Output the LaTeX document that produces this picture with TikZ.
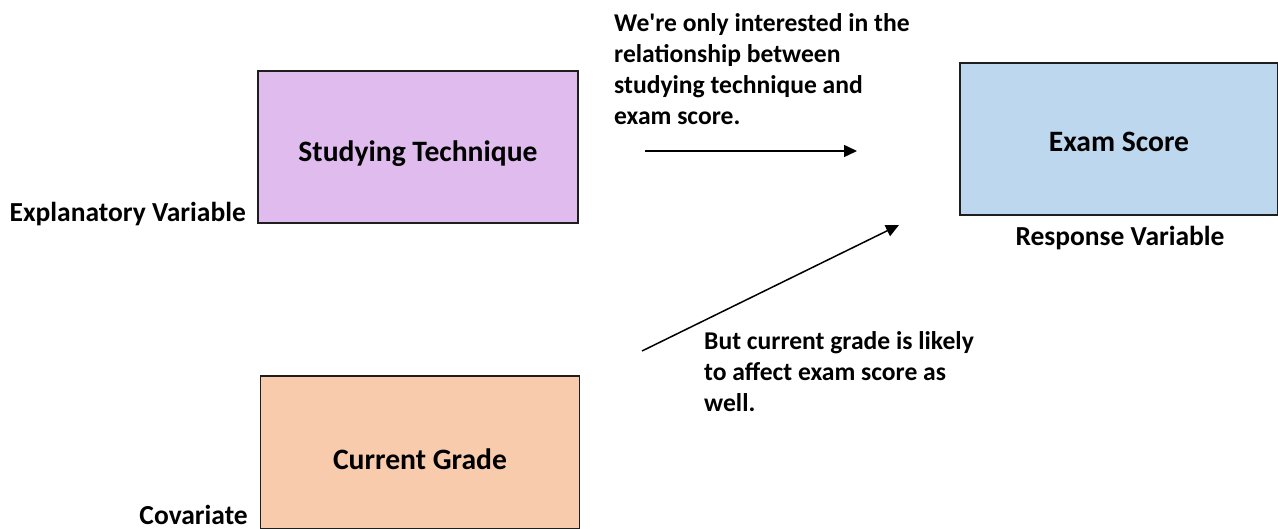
\documentclass[tikz,border=0pt]{standalone}
\usepackage{fontspec}
\newfontfamily\calfont{Carlito}
\usetikzlibrary{arrows.meta}
\definecolor{techfill}{RGB}{224,187,238}
\definecolor{examfill}{RGB}{189,215,238}
\definecolor{gradefill}{RGB}{248,203,173}
\definecolor{edge}{RGB}{30,30,30}
\begin{document}
\begin{tikzpicture}[x=1pt,y=-1pt,
  varbox/.style={draw=edge,line width=1.4pt,minimum width=#1,minimum height=152pt,inner sep=0pt,
    text depth=0pt,text height=28pt,font=\calfont\fontsize{29.6}{35}\selectfont\bfseries},
  varlabel/.style={font=\calfont\fontsize{27.5}{33}\selectfont\bfseries,inner sep=0pt},
  note/.style={font=\calfont\fontsize{25.6}{31}\selectfont\bfseries,align=left,anchor=north west,inner sep=0pt},
  link/.style={line width=1.5pt,-{Triangle[length=13pt,width=12pt]}}]
\useasboundingbox (0,0) rectangle (1278,529);
% the three variables
\node[varbox=320pt,fill=techfill,text height=30pt] (tech) at (418,147) {Studying Technique};
\node[varbox=318pt,fill=examfill,text height=26pt] (exam) at (1119,139) {Exam Score};
\node[varbox=319pt,fill=gradefill,minimum height=153pt,text height=33pt] (grade) at (420,452.5) {Current Grade};
% roles
\node[varlabel,anchor=base east] (explab) at (246,222) {Explanatory Variable};
\node[varlabel,anchor=base] (reslab) at (1120,246) {Response Variable};
\node[varlabel,anchor=base east] (covlab) at (248,524) {Covariate};
% notes
\node[note] (note1) at (614,13) {We're only interested in the\\relationship between\\studying technique and\\exam score.};
\node[note] (note2) at (704,331) {But current grade is likely\\to affect exam score as\\well.};
% arrows
\coordinate (a1s) at (645,151);
\coordinate (a1e) at (857,151);
\coordinate (a2s) at (642,351);
\coordinate (a2e) at (899,225);
\draw[link] (a1s) -- (a1e);
\draw[link] (a2s) -- (a2e);
\end{tikzpicture}
\end{document}
